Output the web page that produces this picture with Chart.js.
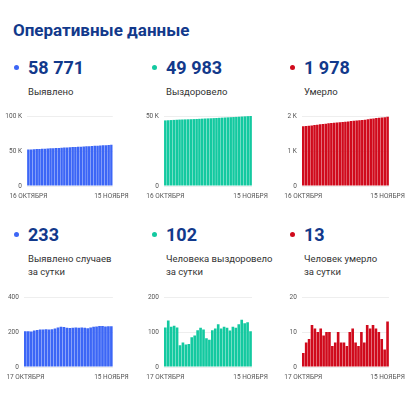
<!DOCTYPE html>
<html lang="ru">
<head>
<meta charset="UTF-8">
<title>Оперативные данные</title>
<script src="https://cdn.jsdelivr.net/npm/chart.js"></script>
<style>
    body {
        margin: 0;
        width: 418px;
        height: 393px;
        background: #fff;
        font-family: Roboto, sans-serif;
        position: relative;
        overflow: hidden;
    }
    .title {
        position: absolute;
        left: 13px;
        top: 22px;
        font-size: 17px;
        line-height: 17px;
        font-weight: bold;
        color: #12398b;
    }
    .dot {
        position: absolute;
        width: 5px;
        height: 5px;
        border-radius: 50%;
    }
    .num {
        position: absolute;
        font-size: 18px;
        line-height: 18px;
        font-weight: bold;
        color: #12398b;
    }
    .lbl {
        position: absolute;
        font-size: 9.5px;
        line-height: 13px;
        color: #333;
    }
    canvas { position: absolute; }
</style>
</head>
<body>
<div class="title">Оперативные данные</div>

<div class="dot" style="left:14px;top:65px;background:#3c66f6"></div>
<div class="num" style="left:28px;top:59px">58 771</div>
<div class="lbl" style="left:28px;top:85px">Выявлено</div>

<div class="dot" style="left:152px;top:65px;background:#13c9a0"></div>
<div class="num" style="left:166px;top:59px">49 983</div>
<div class="lbl" style="left:166px;top:85px">Выздоровело</div>

<div class="dot" style="left:290px;top:65px;background:#d00a1c"></div>
<div class="num" style="left:304px;top:59px">1 978</div>
<div class="lbl" style="left:304px;top:85px">Умерло</div>

<div class="dot" style="left:14px;top:232px;background:#3c66f6"></div>
<div class="num" style="left:28px;top:226px">233</div>
<div class="lbl" style="left:28px;top:252px">Выявлено случаев<br>за сутки</div>

<div class="dot" style="left:152px;top:232px;background:#13c9a0"></div>
<div class="num" style="left:166px;top:226px">102</div>
<div class="lbl" style="left:166px;top:252px">Человека выздоровело<br>за сутки</div>

<div class="dot" style="left:290px;top:232px;background:#d00a1c"></div>
<div class="num" style="left:304px;top:226px">13</div>
<div class="lbl" style="left:304px;top:252px">Человек умерло<br>за сутки</div>

<canvas id="c1" width="135" height="96" style="left:0;top:106px"></canvas>
<canvas id="c2" width="135" height="96" style="left:140px;top:106px"></canvas>
<canvas id="c3" width="135" height="96" style="left:278px;top:106px"></canvas>
<canvas id="c4" width="135" height="96" style="left:0;top:287px"></canvas>
<canvas id="c5" width="135" height="96" style="left:140px;top:287px"></canvas>
<canvas id="c6" width="135" height="96" style="left:278px;top:287px"></canvas>

<script>
    // Dates
    const daysTotal = [
        "16 ОКТЯБРЯ", "17 ОКТЯБРЯ", "18 ОКТЯБРЯ", "19 ОКТЯБРЯ", "20 ОКТЯБРЯ", "21 ОКТЯБРЯ",
        "22 ОКТЯБРЯ", "23 ОКТЯБРЯ", "24 ОКТЯБРЯ", "25 ОКТЯБРЯ", "26 ОКТЯБРЯ", "27 ОКТЯБРЯ",
        "28 ОКТЯБРЯ", "29 ОКТЯБРЯ", "30 ОКТЯБРЯ", "31 ОКТЯБРЯ",
        "1 НОЯБРЯ", "2 НОЯБРЯ", "3 НОЯБРЯ", "4 НОЯБРЯ", "5 НОЯБРЯ", "6 НОЯБРЯ", "7 НОЯБРЯ",
        "8 НОЯБРЯ", "9 НОЯБРЯ", "10 НОЯБРЯ", "11 НОЯБРЯ", "12 НОЯБРЯ", "13 НОЯБРЯ",
        "14 НОЯБРЯ", "15 НОЯБРЯ"
    ];
    const daysDaily = [
        "17 ОКТЯБРЯ", "18 ОКТЯБРЯ", "19 ОКТЯБРЯ", "20 ОКТЯБРЯ", "21 ОКТЯБРЯ",
        "22 ОКТЯБРЯ", "23 ОКТЯБРЯ", "24 ОКТЯБРЯ", "25 ОКТЯБРЯ", "26 ОКТЯБРЯ", "27 ОКТЯБРЯ",
        "28 ОКТЯБРЯ", "29 ОКТЯБРЯ", "30 ОКТЯБРЯ", "31 ОКТЯБРЯ",
        "1 НОЯБРЯ", "2 НОЯБРЯ", "3 НОЯБРЯ", "4 НОЯБРЯ", "5 НОЯБРЯ", "6 НОЯБРЯ", "7 НОЯБРЯ",
        "8 НОЯБРЯ", "9 НОЯБРЯ", "10 НОЯБРЯ", "11 НОЯБРЯ", "12 НОЯБРЯ", "13 НОЯБРЯ",
        "14 НОЯБРЯ", "15 НОЯБРЯ"
    ];

    // Cumulative totals
    const casesTotal = [52111, 52316, 52520, 52723, 52931, 53143, 53357, 53572, 53788, 54003, 54219,
        54439, 54665, 54895, 55123, 55347, 55570, 55794, 56020, 56245, 56471, 56695, 56917, 57143,
        57373, 57605, 57839, 58073, 58305, 58538, 58771];
    const recoveredTotal = [46853, 46966, 47099, 47214, 47332, 47445, 47507, 47577, 47641, 47707, 47792,
        47882, 47987, 48099, 48206, 48288, 48366, 48471, 48581, 48703, 48813, 48928, 49040, 49144,
        49259, 49371, 49493, 49628, 49753, 49881, 49983];
    const deathsTotal = [1710, 1714, 1721, 1729, 1741, 1752, 1762, 1773, 1782, 1792, 1802, 1808, 1815,
        1825, 1832, 1839, 1845, 1855, 1866, 1873, 1879, 1889, 1896, 1908, 1919, 1931, 1942, 1952,
        1960, 1965, 1978];

    // Per day
    const casesDaily = [205, 204, 203, 208, 212, 214, 215, 216, 215, 216, 220, 226, 230, 228, 224,
        223, 224, 226, 225, 226, 224, 222, 226, 230, 232, 234, 234, 232, 233, 233];
    const recoveredDaily = [113, 133, 115, 118, 113, 62, 70, 64, 66, 85, 90, 105, 112, 107, 82,
        78, 105, 110, 122, 110, 115, 112, 104, 115, 112, 122, 135, 125, 128, 102];
    const deathsDaily = [4, 7, 8, 12, 11, 10, 11, 9, 10, 10, 6, 7, 10, 7, 7,
        6, 10, 11, 7, 6, 10, 7, 12, 11, 12, 11, 10, 8, 5, 13];

    const BLUE = "#3c66f6";
    const GREEN = "#13c9a0";
    const RED = "#d00a1c";

    function kFormat(v) {
        return v === 0 ? "0" : (v / 1000) + " K";
    }

    function makeChart(id, labels, values, color, max, step, yWidth, padRight, useK) {
        new Chart(document.getElementById(id), {
            type: "bar",
            data: {
                labels: labels,
                datasets: [{
                    data: values,
                    backgroundColor: color,
                    barPercentage: 0.9,
                    categoryPercentage: 1
                }]
            },
            options: {
                responsive: false,
                animation: false,
                layout: { padding: { top: 10, right: padRight, left: 0, bottom: 0 } },
                plugins: { legend: { display: false }, tooltip: { enabled: false } },
                scales: {
                    x: {
                        grid: { display: false, drawTicks: false },
                        border: { display: false },
                        ticks: {
                            autoSkip: false,
                            maxRotation: 0,
                            padding: 6,
                            color: "#555",
                            font: { family: "Roboto", size: 6.5 },
                            callback: function (val, i) {
                                return (i === 0 || i === labels.length - 1) ? labels[i] : "";
                            }
                        },
                        afterFit: function (s) { s.height = 16; }
                    },
                    y: {
                        min: 0,
                        max: max,
                        grid: { color: "#eeeeee", drawTicks: false },
                        border: { display: false },
                        ticks: {
                            stepSize: step,
                            padding: 5,
                            color: "#555",
                            font: { family: "Roboto", size: 6.5 },
                            callback: function (v) { return useK ? kFormat(v) : v; }
                        },
                        afterFit: function (s) { s.width = yWidth; }
                    }
                }
            }
        });
    }

    makeChart("c1", daysTotal, casesTotal, BLUE, 100000, 50000, 27, 22, true);
    makeChart("c2", daysTotal, recoveredTotal, GREEN, 50000, 50000, 23, 23, true);
    makeChart("c3", daysTotal, deathsTotal, RED, 2000, 1000, 19, 24, true);
    makeChart("c4", daysDaily, casesDaily, BLUE, 400, 200, 23, 22, false);
    makeChart("c5", daysDaily, recoveredDaily, GREEN, 200, 100, 21, 23, false);
    makeChart("c6", daysDaily, deathsDaily, RED, 20, 10, 19, 24, false);
</script>
</body>
</html>
